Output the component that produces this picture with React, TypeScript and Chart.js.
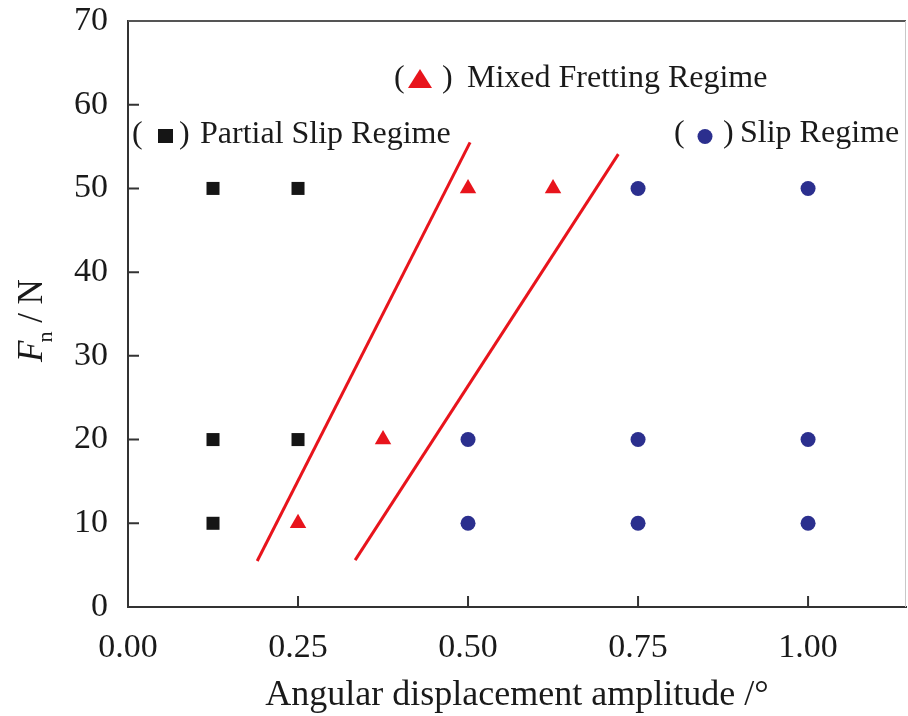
import React, { useEffect, useRef } from "react";
import { Chart, registerables } from "chart.js";

Chart.register(...registerables);

// Data
const partialX = [0.125, 0.25, 0.125, 0.25, 0.125];
const partialY = [50, 50, 20, 20, 10];
const mixedX = [0.5, 0.625, 0.375, 0.25];
const mixedY = [50, 50, 20, 10];
const slipX = [0.75, 1.0, 0.5, 0.75, 1.0, 0.5, 0.75, 1.0];
const slipY = [50, 50, 20, 20, 20, 10, 10, 10];
const boundary1X = [0.19, 0.503];
const boundary1Y = [5.5, 55.5];
const boundary2X = [0.334, 0.721];
const boundary2Y = [5.6, 54.1];
const xTicks = [0, 0.25, 0.5, 0.75, 1.0];
const yTicks = [0, 10, 20, 30, 40, 50, 60, 70];
const xInnerTicks = [0.25, 0.5, 0.75, 1.0];
const yInnerTicks = [10, 20, 30, 40, 50, 60];
const xTitle = "Angular displacement amplitude /°";
const labelPartial = "Partial Slip Regime";
const labelMixed = "Mixed Fretting Regime";
const labelSlip = "Slip Regime";

const SERIF = "'Liberation Serif', 'Times New Roman', serif";
const RED = "#e8141c";
const BLUE = "#2b2f8e";
const BLACK = "#151515";
const TEXT = "#1a1a1a";

const pts = (xs: number[], ys: number[]) => xs.map((x, i) => ({ x, y: ys[i] }));

const zeroPad = (s: any) => {
  s.paddingTop = 0;
  s.paddingBottom = 0;
  s.paddingLeft = 0;
  s.paddingRight = 0;
};

const decorPlugin = {
  id: "decor",
  afterDraw(chart: any) {
    const { ctx, chartArea: a, scales } = chart;
    const xs = scales.x;
    const ys = scales.y;
    ctx.save();
    // frame top & right
    ctx.strokeStyle = "#555";
    ctx.lineWidth = 2;
    ctx.beginPath();
    ctx.moveTo(a.left, a.top);
    ctx.lineTo(a.right, a.top);
    ctx.stroke();
    ctx.strokeStyle = "#c8c8c8";
    ctx.lineWidth = 1;
    ctx.beginPath();
    ctx.moveTo(a.right - 0.5, a.top);
    ctx.lineTo(a.right - 0.5, a.bottom);
    ctx.stroke();
    // inner ticks
    ctx.strokeStyle = "#333";
    ctx.lineWidth = 2;
    ctx.beginPath();
    yInnerTicks.forEach((v) => {
      const y = ys.getPixelForValue(v);
      ctx.moveTo(a.left, y);
      ctx.lineTo(a.left + 11, y);
    });
    xInnerTicks.forEach((v) => {
      const x = xs.getPixelForValue(v);
      ctx.moveTo(x, a.bottom);
      ctx.lineTo(x, a.bottom - 11);
    });
    ctx.stroke();

    // x title
    ctx.fillStyle = TEXT;
    ctx.font = `36px ${SERIF}`;
    ctx.textAlign = "center";
    ctx.textBaseline = "alphabetic";
    ctx.fillText(xTitle, (a.left + a.right) / 2, 705);

    // y title, rotated
    ctx.save();
    ctx.translate(42, 362);
    ctx.rotate(-Math.PI / 2);
    ctx.textAlign = "left";
    ctx.font = `italic 35px ${SERIF}`;
    ctx.fillText("F", 0, 0);
    let w = ctx.measureText("F").width;
    ctx.font = `22px ${SERIF}`;
    ctx.fillText("n", w - 2, 10);
    w += ctx.measureText("n").width - 2;
    ctx.font = `35px ${SERIF}`;
    ctx.fillText(" / N", w, 0);
    ctx.restore();

    // annotations
    const drawLabel = (
      openX: number,
      closeX: number,
      textX: number,
      baseY: number,
      text: string,
      marker: () => void
    ) => {
      ctx.font = `32px ${SERIF}`;
      ctx.textAlign = "left";
      ctx.textBaseline = "alphabetic";
      ctx.fillStyle = TEXT;
      ctx.fillText("(", openX, baseY);
      ctx.fillText(")", closeX, baseY);
      ctx.fillText(text, textX, baseY);
      marker();
    };
    drawLabel(132, 179, 200, 143, labelPartial, () => {
      ctx.fillStyle = BLACK;
      ctx.fillRect(158, 129, 15, 14);
    });
    drawLabel(394, 442, 467, 87, labelMixed, () => {
      ctx.fillStyle = RED;
      ctx.beginPath();
      ctx.moveTo(420, 69);
      ctx.lineTo(432, 88);
      ctx.lineTo(408, 88);
      ctx.closePath();
      ctx.fill();
    });
    drawLabel(674, 723, 740, 142, labelSlip, () => {
      ctx.fillStyle = BLUE;
      ctx.beginPath();
      ctx.arc(705, 136.5, 7.5, 0, Math.PI * 2);
      ctx.fill();
    });
    ctx.restore();
  },
};

export default function App() {
  const ref = useRef<HTMLCanvasElement>(null);
  useEffect(() => {
    if (!ref.current) return;
    const chart = new Chart(ref.current, {
      type: "scatter",
      data: {
        datasets: [
          {
            label: "b1",
            data: pts(boundary1X, boundary1Y),
            showLine: true,
            borderColor: RED,
            borderWidth: 3,
            pointRadius: 0,
          },
          {
            label: "b2",
            data: pts(boundary2X, boundary2Y),
            showLine: true,
            borderColor: RED,
            borderWidth: 3,
            pointRadius: 0,
          },
          {
            label: "Partial Slip Regime",
            data: pts(partialX, partialY),
            pointStyle: "rect",
            pointRadius: 9.2,
            backgroundColor: BLACK,
            borderColor: BLACK,
            borderWidth: 0,
          },
          {
            label: "Mixed Fretting Regime",
            data: pts(mixedX, mixedY),
            pointStyle: "triangle",
            pointRadius: 9.5,
            backgroundColor: RED,
            borderColor: RED,
            borderWidth: 0,
          },
          {
            label: "Slip Regime",
            data: pts(slipX, slipY),
            pointStyle: "circle",
            pointRadius: 7.5,
            backgroundColor: BLUE,
            borderColor: BLUE,
            borderWidth: 0,
          },
        ],
      },
      options: {
        animation: false,
        responsive: false,
        maintainAspectRatio: false,
        layout: { autoPadding: false, padding: { left: 0, top: 21, right: 2, bottom: 0 } },
        plugins: { legend: { display: false }, tooltip: { enabled: false } },
        scales: {
          x: {
            type: "linear",
            min: 0,
            max: 1.144,
            afterFit: (s: any) => {
              s.height = 109;
              zeroPad(s);
            },
            afterBuildTicks: (s: any) => {
              s.ticks = xTicks.map((v) => ({ value: v }));
            },
            grid: { display: false, drawTicks: false },
            border: { display: true, color: "#333", width: 2 },
            ticks: {
              padding: 21,
              color: TEXT,
              font: { family: SERIF, size: 34 },
              maxRotation: 0,
              autoSkip: false,
              callback: (v: any) => Number(v).toFixed(2),
            },
          },
          y: {
            type: "linear",
            min: 0,
            max: 70,
            afterFit: (s: any) => {
              s.width = 128;
              zeroPad(s);
            },
            afterBuildTicks: (s: any) => {
              s.ticks = yTicks.map((v) => ({ value: v }));
            },
            grid: { display: false, drawTicks: false },
            border: { display: true, color: "#333", width: 2 },
            ticks: {
              padding: 20,
              color: TEXT,
              font: { family: SERIF, size: 34 },
              autoSkip: false,
              callback: (v: any) => String(v),
            },
          },
        },
      },
      plugins: [decorPlugin],
    } as any);
    return () => chart.destroy();
  }, []);
  return (
    <div style={{ position: "fixed", left: 0, top: 0, width: 908, height: 716, background: "#fff" }}>
      <canvas ref={ref} width={908} height={716} style={{ width: 908, height: 716, display: "block" }} />
    </div>
  );
}
